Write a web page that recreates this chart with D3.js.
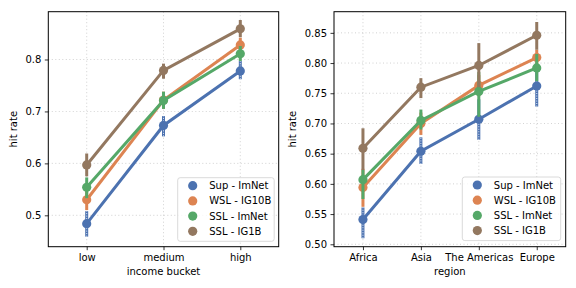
<html>
<head>
<script src="https://d3js.org/d3.v7.min.js"></script>
<style>
  body { margin: 0; background: #fff; }
  text { font-family: "DejaVu Sans", sans-serif; }
</style>
</head>
<body>
<script>
// series
var seriesNames = ["Sup - ImNet", "WSL - IG10B", "SSL - ImNet", "SSL - IG1B"];
var colors = ["#4c72b0", "#dd8452", "#55a868", "#937860"];

// left panel: income bucket
var incomeCats = ["low", "medium", "high"];
var incomeMean = [[0.484, 0.673, 0.778], [0.530, 0.722, 0.828], [0.554, 0.721, 0.811], [0.597, 0.779, 0.859]];
var incomeLo   = [[0.459, 0.652, 0.762], [0.510, 0.705, 0.815], [0.533, 0.705, 0.797], [0.575, 0.763, 0.843]];
var incomeHi   = [[0.508, 0.691, 0.797], [0.550, 0.738, 0.842], [0.573, 0.738, 0.826], [0.619, 0.792, 0.876]];
var incomeTicks = [0.5, 0.6, 0.7, 0.8];

// right panel: region
var regionCats = ["Africa", "Asia", "The Americas", "Europe"];
var regionMean = [[0.541, 0.654, 0.707, 0.762], [0.594, 0.700, 0.763, 0.809], [0.607, 0.705, 0.753, 0.792], [0.659, 0.760, 0.796, 0.846]];
var regionLo   = [[0.510, 0.633, 0.673, 0.728], [0.562, 0.681, 0.745, 0.795], [0.575, 0.690, 0.711, 0.770], [0.623, 0.742, 0.760, 0.822]];
var regionHi   = [[0.561, 0.677, 0.740, 0.790], [0.625, 0.718, 0.780, 0.822], [0.623, 0.723, 0.785, 0.815], [0.692, 0.775, 0.833, 0.868]];
var regionTicks = [0.50, 0.55, 0.60, 0.65, 0.70, 0.75, 0.80, 0.85];

var W = 576, H = 288;
var svg = d3.select("body").append("svg").attr("width", W).attr("height", H);

function panel(opt) {
  var x = d3.scalePoint().domain(opt.cats).range([opt.x0, opt.x1]).padding(0.5);
  var y = d3.scaleLinear().domain(opt.ydom).range([opt.y1, opt.y0]);
  var g = svg.append("g");

  // grid
  g.selectAll(".gx").data(opt.cats).enter().append("line")
    .attr("x1", d => x(d)).attr("x2", d => x(d))
    .attr("y1", opt.y0).attr("y2", opt.y1)
    .attr("stroke", "#b0b0b0").attr("stroke-width", 0.8).attr("stroke-dasharray", "1,2.5").attr("opacity", 0.7);
  g.selectAll(".gy").data(opt.ticks).enter().append("line")
    .attr("x1", opt.x0).attr("x2", opt.x1)
    .attr("y1", d => y(d)).attr("y2", d => y(d))
    .attr("stroke", "#b0b0b0").attr("stroke-width", 0.8).attr("stroke-dasharray", "1,2.5").attr("opacity", 0.7);

  // series
  seriesNames.forEach(function(name, s) {
    var c = colors[s];
    var sg = g.append("g");
    opt.cats.forEach(function(cat, i) {
      sg.append("line")
        .attr("x1", x(cat)).attr("x2", x(cat))
        .attr("y1", y(opt.lo[s][i])).attr("y2", y(opt.hi[s][i]))
        .attr("stroke", c).attr("stroke-width", 3);
      if (s === 0) {
        sg.append("line")
          .attr("x1", x(cat)).attr("x2", x(cat))
          .attr("y1", y(opt.lo[s][i])).attr("y2", y(opt.hi[s][i]))
          .attr("stroke", "#e6ecf5").attr("stroke-width", 1).attr("stroke-dasharray", "1,1.5");
      }
    });
    var line = d3.line().x((d, i) => x(opt.cats[i])).y(d => y(d));
    sg.append("path").datum(opt.mean[s]).attr("d", line)
      .attr("fill", "none").attr("stroke", c).attr("stroke-width", 3);
    sg.selectAll("circle").data(opt.mean[s]).enter().append("circle")
      .attr("cx", (d, i) => x(opt.cats[i])).attr("cy", d => y(d))
      .attr("r", 4.6).attr("fill", c);
  });

  // spines
  g.append("rect").attr("x", opt.x0).attr("y", opt.y0)
    .attr("width", opt.x1 - opt.x0).attr("height", opt.y1 - opt.y0)
    .attr("fill", "none").attr("stroke", "#000").attr("stroke-width", 1);

  // axes ticks
  var xa = g.append("g").attr("transform", "translate(0," + opt.y1 + ")")
    .call(d3.axisBottom(x).tickSizeOuter(0).tickSize(3.5).tickPadding(3.5));
  var ya = g.append("g").attr("transform", "translate(" + opt.x0 + ",0)")
    .call(d3.axisLeft(y).tickValues(opt.ticks).tickFormat(opt.fmt).tickSizeOuter(0).tickSize(3.5).tickPadding(3.5));
  [xa, ya].forEach(function(a) {
    a.select(".domain").remove();
    a.selectAll("text").attr("font-size", 10).attr("fill", "#000").attr("font-family", "DejaVu Sans, sans-serif");
    a.selectAll("line").attr("stroke", "#000").attr("stroke-width", 0.8);
  });

  // labels
  g.append("text").attr("x", (opt.x0 + opt.x1) / 2).attr("y", opt.y1 + 28)
    .attr("text-anchor", "middle").attr("font-size", 10).text(opt.xlabel);
  g.append("text").attr("transform", "translate(" + opt.ylx + "," + ((opt.y0 + opt.y1) / 2) + ") rotate(-90)")
    .attr("text-anchor", "middle").attr("font-size", 10).text("hit rate");

  // legend
  var lg = g.append("g").attr("transform", "translate(" + opt.lx + "," + opt.ly + ")");
  lg.append("rect").attr("width", opt.lw).attr("height", 63.6).attr("rx", 2.5)
    .attr("fill", "#fff").attr("fill-opacity", 0.8).attr("stroke", "#d0d0d0").attr("stroke-width", 0.8);
  seriesNames.forEach(function(name, s) {
    lg.append("circle").attr("cx", 15).attr("cy", 8 + s * 15.2).attr("r", 4.6).attr("fill", colors[s]);
    lg.append("text").attr("x", 31.5).attr("y", 8 + s * 15.2).attr("dy", "0.35em")
      .attr("font-size", 10).text(name);
  });
}

panel({
  cats: incomeCats, mean: incomeMean, lo: incomeLo, hi: incomeHi, ticks: incomeTicks,
  fmt: d3.format(".1f"), ydom: [0.4396, 0.892],
  x0: 48.3, x1: 278.7, y0: 11.7, y1: 246.7, xlabel: "income bucket", ylx: 17,
  lx: 177.7, ly: 177.7, lw: 96.5
});
panel({
  cats: regionCats, mean: regionMean, lo: regionLo, hi: regionHi, ticks: regionTicks,
  fmt: d3.format(".2f"), ydom: [0.496, 0.885],
  x0: 334, x1: 565.7, y0: 11.7, y1: 246.7, xlabel: "region", ylx: 296,
  lx: 462.3, ly: 177, lw: 98.4
});
</script>
</body>
</html>
